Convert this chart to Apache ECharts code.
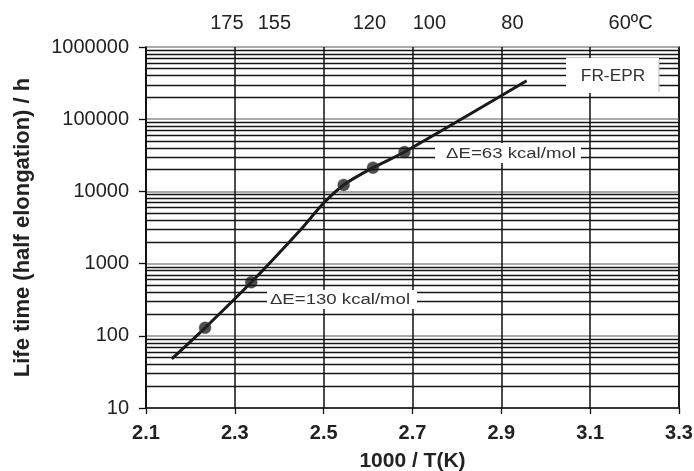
<!DOCTYPE html>
<html><head><meta charset="utf-8">
<script src="https://cdn.jsdelivr.net/npm/echarts@6/dist/echarts.min.js"></script>
<style>html,body{margin:0;padding:0;background:#fff}#c{width:694px;height:471px}</style>
</head><body><div id="c"></div>
<script>
// Data
var curveX = [2.158, 2.233, 2.337, 2.447, 2.5, 2.545, 2.611, 2.682, 2.957];
var curveY = [48, 129, 551, 2900, 6900, 12300, 21300, 35100, 340000];
var pointX = [2.233, 2.337, 2.545, 2.611, 2.682];
var pointY = [129, 551, 12300, 21300, 35100];
var topTickLabels = ['175', '155', '120', '100', '80', '60ºC'];
var topTickPos = [2.282, 2.389, 2.603, 2.738, 2.925, 3.191];
var minorValues = [];
[10, 100, 1000, 10000, 100000].forEach(function (d) {
  for (var k = 2; k <= 9; k++) minorValues.push(d * k);
});
var annotations = ['FR-EPR', 'ΔE=63 kcal/mol', 'ΔE=130 kcal/mol'];

var chart = echarts.init(document.getElementById('c'), null, {renderer: 'canvas'});
var font = 'Liberation Sans, Arial, sans-serif';
chart.setOption({
  animation: false,
  backgroundColor: '#fff',
  grid: {left: 146, right: 15, top: 47, bottom: 63, containLabel: false, outerBoundsMode: 'none',
    show: true, borderColor: '#111', borderWidth: 1.5, backgroundColor: 'transparent'},
  xAxis: [{
    type: 'value', min: 2.1, max: 3.3, interval: 0.2,
    name: '1000 / T(K)', nameLocation: 'middle', nameGap: 43,
    nameTextStyle: {fontFamily: font, fontSize: 21, fontWeight: 'bold', color: '#222'},
    axisLine: {show: true, lineStyle: {color: '#111', width: 1.5}},
    axisTick: {show: true, length: 6, lineStyle: {color: '#111', width: 1.3}},
    axisLabel: {fontFamily: font, fontSize: 20, fontWeight: 'bold', color: '#222', margin: 15,
      formatter: function (v) { return v.toFixed(1); }},
    splitLine: {show: true, lineStyle: {color: '#111', width: 1.5}}
  }, {
    type: 'value', min: 2.1, max: 3.3, position: 'top',
    axisLine: {show: false}, axisTick: {show: false}, splitLine: {show: false},
    axisLabel: {fontFamily: font, fontSize: 20, color: '#222', margin: 14,
      customValues: topTickPos,
      formatter: function (v) {
        for (var i = 0; i < topTickPos.length; i++) if (Math.abs(v - topTickPos[i]) < 1e-6) return topTickLabels[i];
        return '';
      }}
  }],
  yAxis: {
    type: 'log', logBase: 10, min: 10, max: 1000000,
    name: 'Life time (half elongation) / h', nameLocation: 'middle', nameGap: 112,
    nameTextStyle: {fontFamily: font, fontSize: 22, fontWeight: 'bold', color: '#222'},
    axisLine: {show: true, lineStyle: {color: '#111', width: 1.5}},
    axisTick: {show: true, length: 7, lineStyle: {color: '#111', width: 1.3}},
    axisLabel: {fontFamily: font, fontSize: 20, color: '#222', margin: 17,
      formatter: function (v) { return String(Math.round(v)); }},
    splitLine: {show: true, lineStyle: {color: '#aaa', width: 2}}
  },
  series: [{
    type: 'line', data: [], silent: true, z: 1,
    markLine: {
      silent: true, symbol: ['none', 'none'], label: {show: false},
      lineStyle: {color: '#151515', width: 1.4, type: 'solid'},
      data: minorValues.map(function (v) { return {yAxis: v}; })
    }
  }, {
    type: 'line', smooth: 0.3, showSymbol: false, z: 3,
    lineStyle: {color: '#1a1a1a', width: 3},
    data: curveX.map(function (x, i) { return [x, curveY[i]]; })
  }, {
    type: 'scatter', symbolSize: 12, z: 4,
    itemStyle: {color: '#222', borderColor: '#555', borderWidth: 0.5},
    data: pointX.map(function (x, i) { return [x, pointY[i]]; })
  }],
  graphic: [
    {type: 'rect', shape: {x: 566, y: 58, width: 93, height: 35}, style: {fill: '#fff', stroke: null}, z: 10},
    {type: 'line', shape: {x1: 659, y1: 60, x2: 659, y2: 92}, style: {stroke: '#bbb', lineWidth: 1}, z: 10},
    {type: 'text', x: 613, y: 77, scaleX: 1.08, style: {text: annotations[0], font: '16px ' + font, fill: '#333', textAlign: 'center', textVerticalAlign: 'middle'}, z: 11},
    {type: 'rect', shape: {x: 435, y: 143, width: 146, height: 20}, style: {fill: '#fff'}, z: 10},
    {type: 'text', x: 511, y: 154, scaleX: 1.2, style: {text: annotations[1], font: '15.5px ' + font, fill: '#333', textAlign: 'center', textVerticalAlign: 'middle'}, z: 11},
    {type: 'rect', shape: {x: 267, y: 290, width: 150, height: 19}, style: {fill: '#fff'}, z: 10},
    {type: 'text', x: 340, y: 300, scaleX: 1.2, style: {text: annotations[2], font: '15.5px ' + font, fill: '#333', textAlign: 'center', textVerticalAlign: 'middle'}, z: 11}
  ]
});
</script></body></html>
